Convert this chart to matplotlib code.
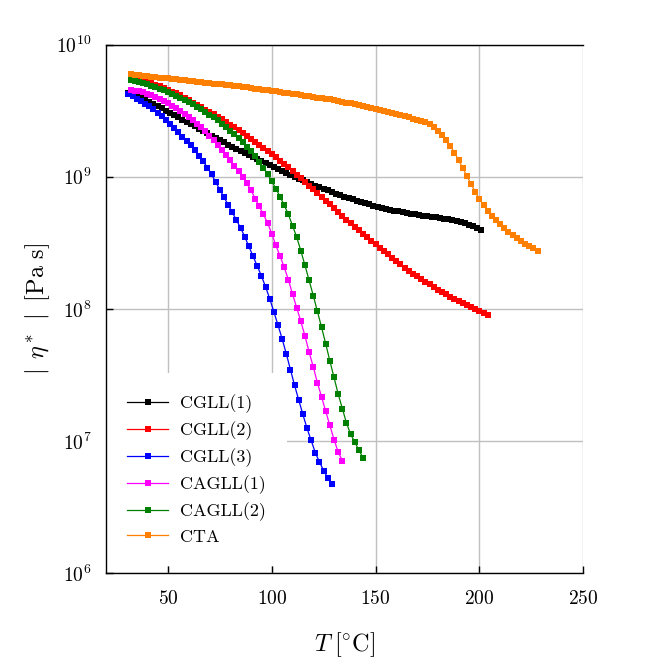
import matplotlib
matplotlib.use("Agg")
import matplotlib.pyplot as plt
from matplotlib.ticker import NullLocator, FixedLocator
import numpy as np

plt.rcParams['font.family'] = 'serif'
plt.rcParams['font.serif'] = ['cmr10', 'DejaVu Serif']
plt.rcParams['mathtext.fontset'] = 'cm'
plt.rcParams['axes.formatter.use_mathtext'] = True

# temperatures [°C] and log10 |eta*| [Pa s]
temp_cgll1 = [31, 33, 35, 37, 39, 41, 43, 45, 47, 49,
              51, 53, 55, 57, 59, 61, 63, 65, 67, 69,
              71, 73, 75, 77, 79, 81, 83, 85, 87, 89,
              91, 93, 95, 97, 99, 101, 103, 105, 107, 109,
              111, 113, 115, 117, 119, 121, 123, 125, 127, 129,
              131, 133, 135, 137, 139, 141, 143, 145, 147, 149,
              151, 153, 155, 157, 159, 161, 163, 165, 167, 169,
              171, 173, 175, 177, 179, 181, 183, 185, 187, 189,
              191, 193, 195, 197, 199, 201]
logeta_cgll1 = [9.637, 9.625, 9.611, 9.597, 9.582, 9.566, 9.550, 9.534, 9.517, 9.500,
                9.483, 9.466, 9.449, 9.432, 9.415, 9.398, 9.381, 9.364, 9.347, 9.330,
                9.312, 9.294, 9.277, 9.260, 9.243, 9.227, 9.211, 9.195, 9.179, 9.163,
                9.148, 9.133, 9.118, 9.103, 9.088, 9.073, 9.058, 9.043, 9.028, 9.013,
                8.999, 8.985, 8.972, 8.959, 8.946, 8.933, 8.920, 8.908, 8.896, 8.884,
                8.872, 8.860, 8.849, 8.838, 8.828, 8.818, 8.808, 8.799, 8.790, 8.781,
                8.773, 8.765, 8.757, 8.750, 8.743, 8.737, 8.731, 8.725, 8.720, 8.715,
                8.710, 8.705, 8.700, 8.696, 8.692, 8.688, 8.683, 8.678, 8.672, 8.665,
                8.657, 8.647, 8.636, 8.624, 8.610, 8.594]

temp_cgll2 = [32, 34, 36, 38, 40, 42, 44, 46, 48, 50,
              52, 54, 56, 58, 60, 62, 64, 66, 68, 70,
              72, 74, 76, 78, 80, 82, 84, 86, 88, 90,
              92, 94, 96, 98, 100, 102, 104, 106, 108, 110,
              112, 114, 116, 118, 120, 122, 124, 126, 128, 130,
              132, 134, 136, 138, 140, 142, 144, 146, 148, 150,
              152, 154, 156, 158, 160, 162, 164, 166, 168, 170,
              172, 174, 176, 178, 180, 182, 184, 186, 188, 190,
              192, 194, 196, 198, 200, 202, 204]
logeta_cgll2 = [9.745, 9.739, 9.732, 9.724, 9.716, 9.707, 9.698, 9.686, 9.673, 9.659,
                9.645, 9.631, 9.616, 9.598, 9.580, 9.562, 9.544, 9.526, 9.508, 9.490,
                9.472, 9.454, 9.435, 9.415, 9.395, 9.373, 9.351, 9.329, 9.307, 9.285,
                9.262, 9.239, 9.216, 9.193, 9.170, 9.146, 9.122, 9.097, 9.071, 9.045,
                9.017, 8.989, 8.961, 8.933, 8.905, 8.877, 8.849, 8.820, 8.791, 8.762,
                8.733, 8.704, 8.676, 8.648, 8.620, 8.594, 8.568, 8.542, 8.516, 8.490,
                8.464, 8.438, 8.412, 8.386, 8.360, 8.336, 8.312, 8.289, 8.267, 8.245,
                8.225, 8.205, 8.185, 8.165, 8.145, 8.127, 8.109, 8.091, 8.074, 8.058,
                8.043, 8.028, 8.013, 7.999, 7.985, 7.970, 7.955]

temp_cgll3 = [31, 33, 35, 37, 39, 41, 43, 45, 47, 49,
              51, 53, 55, 57, 59, 61, 63, 65, 67, 69,
              71, 73, 75, 77, 79, 81, 83, 85, 87, 89,
              91, 93, 95, 97, 99, 101, 103, 105, 107, 109,
              111, 113, 115, 117, 119, 121, 123, 125, 127, 129]
logeta_cgll3 = [9.627, 9.610, 9.592, 9.573, 9.553, 9.532, 9.510, 9.485, 9.457, 9.428,
                9.398, 9.367, 9.336, 9.304, 9.272, 9.238, 9.200, 9.160, 9.116, 9.070,
                9.018, 8.960, 8.902, 8.845, 8.788, 8.730, 8.672, 8.613, 8.546, 8.472,
                8.398, 8.325, 8.250, 8.168, 8.078, 7.978, 7.878, 7.773, 7.660, 7.540,
                7.420, 7.310, 7.200, 7.095, 7.003, 6.910, 6.840, 6.775, 6.720, 6.672]

temp_cagll1 = [32, 34, 36, 38, 40, 42, 44, 46, 48, 50,
               52, 54, 56, 58, 60, 62, 64, 66, 68, 70,
               72, 74, 76, 78, 80, 82, 84, 86, 88, 90,
               92, 94, 96, 98, 100, 102, 104, 106, 108, 110,
               112, 114, 116, 118, 120, 122, 124, 126, 128, 130,
               132, 134]
logeta_cagll1 = [9.659, 9.653, 9.646, 9.638, 9.629, 9.619, 9.606, 9.591, 9.574, 9.556,
                 9.537, 9.517, 9.496, 9.474, 9.451, 9.427, 9.401, 9.373, 9.343, 9.311,
                 9.277, 9.241, 9.203, 9.164, 9.124, 9.083, 9.041, 8.997, 8.950, 8.898,
                 8.835, 8.775, 8.715, 8.650, 8.570, 8.480, 8.400, 8.315, 8.222, 8.112,
                 8.010, 7.905, 7.795, 7.673, 7.560, 7.440, 7.333, 7.224, 7.117, 7.010,
                 6.915, 6.850]

temp_cagll2 = [32, 34, 36, 38, 40, 42, 44, 46, 48, 50,
               52, 54, 56, 58, 60, 62, 64, 66, 68, 70,
               72, 74, 76, 78, 80, 82, 84, 86, 88, 90,
               92, 94, 96, 98, 100, 102, 104, 106, 108, 110,
               112, 114, 116, 118, 120, 122, 124, 126, 128, 130,
               132, 134, 136, 138, 140, 142, 144]
logeta_cagll2 = [9.734, 9.726, 9.717, 9.708, 9.699, 9.689, 9.679, 9.668, 9.657, 9.645,
                 9.630, 9.615, 9.599, 9.583, 9.566, 9.549, 9.531, 9.512, 9.492, 9.471,
                 9.449, 9.426, 9.402, 9.377, 9.350, 9.322, 9.292, 9.261, 9.228, 9.193,
                 9.155, 9.114, 9.069, 9.020, 8.967, 8.910, 8.850, 8.785, 8.715, 8.630,
                 8.545, 8.440, 8.330, 8.215, 8.100, 7.980, 7.860, 7.735, 7.605, 7.480,
                 7.355, 7.245, 7.135, 7.050, 6.990, 6.930, 6.870]

temp_cta = [32, 34, 36, 38, 40, 42, 44, 46, 48, 50,
            52, 54, 56, 58, 60, 62, 64, 66, 68, 70,
            72, 74, 76, 78, 80, 82, 84, 86, 88, 90,
            92, 94, 96, 98, 100, 102, 104, 106, 108, 110,
            112, 114, 116, 118, 120, 122, 124, 126, 128, 130,
            132, 134, 136, 138, 140, 142, 144, 146, 148, 150,
            152, 154, 156, 158, 160, 162, 164, 166, 168, 170,
            172, 174, 176, 178, 180, 182, 184, 186, 188, 190,
            192, 194, 196, 198, 200, 202, 204, 206, 208, 210,
            212, 214, 216, 218, 220, 222, 224, 226, 228]
logeta_cta = [9.775, 9.772, 9.768, 9.765, 9.761, 9.758, 9.755, 9.751, 9.748, 9.745,
              9.741, 9.738, 9.734, 9.731, 9.727, 9.724, 9.720, 9.717, 9.713, 9.710,
              9.706, 9.703, 9.699, 9.695, 9.692, 9.688, 9.684, 9.680, 9.676, 9.672,
              9.667, 9.663, 9.659, 9.655, 9.650, 9.646, 9.642, 9.637, 9.633, 9.628,
              9.624, 9.619, 9.614, 9.609, 9.605, 9.600, 9.595, 9.590, 9.585, 9.579,
              9.573, 9.567, 9.561, 9.555, 9.548, 9.541, 9.534, 9.527, 9.520, 9.513,
              9.505, 9.497, 9.489, 9.481, 9.473, 9.465, 9.457, 9.449, 9.440, 9.431,
              9.422, 9.412, 9.398, 9.378, 9.350, 9.318, 9.280, 9.235, 9.183, 9.125,
              9.066, 9.005, 8.945, 8.886, 8.833, 8.785, 8.742, 8.705, 8.670, 8.639,
              8.610, 8.582, 8.556, 8.533, 8.511, 8.493, 8.475, 8.458, 8.440]

series = [
    ('CGLL(1)', temp_cgll1, logeta_cgll1, '#000000'),
    ('CGLL(2)', temp_cgll2, logeta_cgll2, '#ff0000'),
    ('CGLL(3)', temp_cgll3, logeta_cgll3, '#0000ff'),
    ('CAGLL(1)', temp_cagll1, logeta_cagll1, '#ff00ff'),
    ('CAGLL(2)', temp_cagll2, logeta_cagll2, '#008000'),
    ('CTA', temp_cta, logeta_cta, '#ff8000'),
]

fig = plt.figure(figsize=(6.48, 6.67), dpi=100)
ax = fig.add_axes([0.163, 0.141, 0.737, 0.792])

for name, t, le, c in series:
    ax.plot(t, np.power(10.0, le), color=c, lw=0.9, marker='s', ms=4.8,
            mew=0, label=name)

ax.set_yscale('log')
ax.set_xlim(20, 250)
ax.set_ylim(1e6, 1e10)
ax.xaxis.set_major_locator(FixedLocator([50, 100, 150, 200, 250]))
ax.yaxis.set_major_locator(FixedLocator([1e6, 1e7, 1e8, 1e9, 1e10]))
ax.yaxis.set_minor_locator(NullLocator())
ax.xaxis.set_minor_locator(NullLocator())

ax.grid(True, color='#c0c0c0', lw=1.0)
ax.set_axisbelow(True)
ax.spines['right'].set_visible(False)
for s in ['left', 'bottom', 'top']:
    ax.spines[s].set_linewidth(1.0)

ax.tick_params(direction='in', length=5, width=1, labelsize=14,
               top=False, right=False)
ax.tick_params(axis='x', pad=12)
ax.tick_params(axis='y', pad=10)

ax.set_xlabel(r'$T\;[^{\circ}\mathrm{C}]$', fontsize=17.5, labelpad=16)
ax.set_ylabel(r'$|\;\,\eta^*\,\;|\;\;[\mathrm{Pa\ s}]$', fontsize=17.5,
              labelpad=3)

leg = ax.legend(loc='lower left', bbox_to_anchor=(0.0, 0.013), fontsize=13,
                frameon=True, fancybox=False, edgecolor='none',
                facecolor='white', framealpha=1, borderaxespad=0,
                borderpad=1.19, labelspacing=0.45, handlelength=2.27,
                handletextpad=0.66)
leg.set_zorder(2.4)

fig.savefig('out.png', dpi=100)
